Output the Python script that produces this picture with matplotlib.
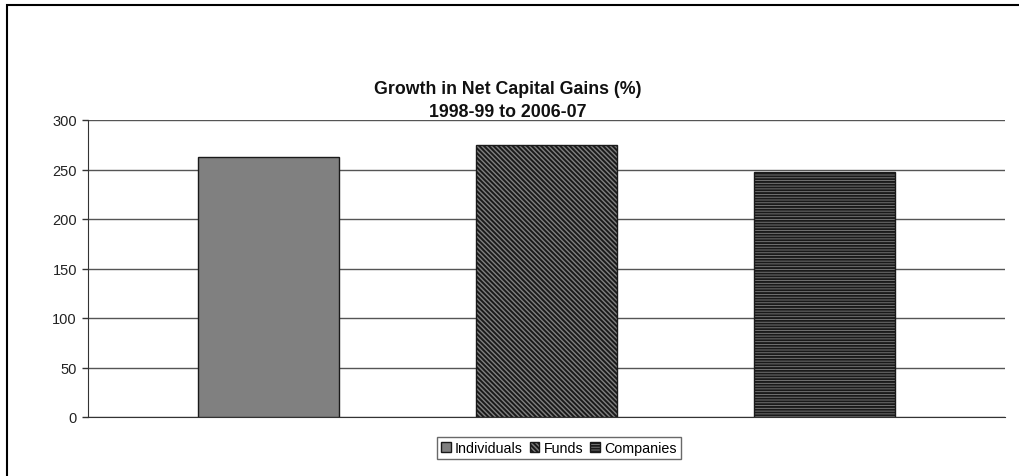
import matplotlib.pyplot as plt
from matplotlib.patches import Patch, Rectangle

# Growth in net capital gains by taxpayer type
categories = ["Individuals", "Funds", "Companies"]
growth = [263, 275, 247]
hatches = ["", "\\\\\\\\\\\\\\", "------"]

plt.rcParams["font.family"] = ["Liberation Sans", "DejaVu Sans"]
plt.rcParams["hatch.linewidth"] = 1.4

fig = plt.figure(figsize=(10.2, 4.77), dpi=100)
ax = fig.add_axes([88 / 1020, 1 - 418 / 477, 917 / 1020, 297 / 477])

for i, (val, h) in enumerate(zip(growth, hatches)):
    ax.bar(i, val, width=0.507, color="#808080", edgecolor="#1a1a1a",
           hatch=h, linewidth=1.0, zorder=3)

ax.set_xlim(-0.65, 2.65)
ax.set_ylim(0, 300)
ax.set_yticks(range(0, 301, 50))
ax.set_xticks([])
ax.tick_params(axis="y", length=4, width=1, color="#333333", labelsize=10.5,
               labelcolor="#222222", pad=4)
ax.grid(axis="y", color="#555555", linewidth=1.0, zorder=0)
ax.set_axisbelow(True)
for side in ("top", "right"):
    ax.spines[side].set_visible(False)
ax.spines["left"].set_color("#333333")
ax.spines["bottom"].set_color("#333333")

fig.text(508 / 1020, 1 - 101 / 477, "Growth in Net Capital Gains (%)\n1998-99 to 2006-07",
         ha="center", va="center", fontsize=12.8, fontweight="bold",
         linespacing=1.4, color="#111111")

handles = [Patch(facecolor="#808080", edgecolor="#1a1a1a", hatch=h, label=c)
           for c, h in zip(categories, hatches)]
leg = fig.legend(handles=handles, loc="center", bbox_to_anchor=(559 / 1020, 1 - 449 / 477),
                 ncol=3, frameon=True, fancybox=False, fontsize=10.3,
                 handlelength=0.65, handleheight=0.65, handletextpad=0.3,
                 columnspacing=0.5, borderpad=0.3, edgecolor="#444444")
leg.get_frame().set_linewidth(1.0)

# frame around the whole chart area
fig.patches.append(Rectangle((7 / 1020, -0.05), 1.2, 1 - 6 / 477 + 0.05,
                             transform=fig.transFigure, fill=False,
                             edgecolor="black", linewidth=1.5))

fig.savefig("out.png", dpi=100, facecolor="white")
